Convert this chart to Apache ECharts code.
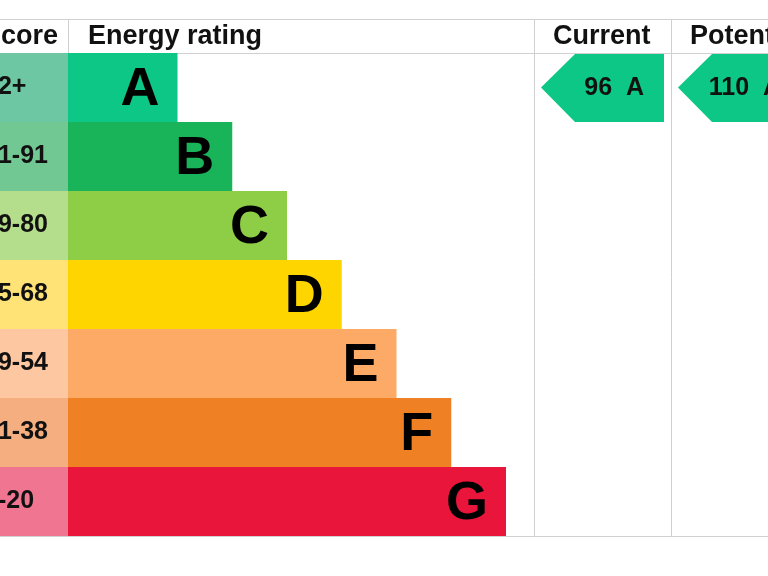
<!DOCTYPE html>
<html><head><meta charset="utf-8">
<script src="https://cdn.jsdelivr.net/npm/echarts@6/dist/echarts.min.js"></script>
<style>html,body{margin:0;padding:0;background:#fff}#c{width:768px;height:576px}</style>
</head><body><div id="c"></div>
<script>
// ---- data ----
const ratings = ['A', 'B', 'C', 'D', 'E', 'F', 'G'];
const scoreRanges = ['92+', '81-91', '69-80', '55-68', '39-54', '21-38', '1-20'];
const bandLength = [2, 3, 4, 5, 6, 7, 8];
const columns = ['Current', 'Potential'];
const markerScores = [96, 110];
const markerRatings = ['A', 'A'];
const headers = ['Score', 'Energy rating'];

// ---- styles ----
const bandColors = ['#0cc785', '#19b459', '#8dce46', '#ffd500', '#fcaa65', '#ef8023', '#e9153b'];
const scoreColors = ['#6cc7a2', '#72c893', '#b4de8c', '#ffe377', '#fdc8a1', '#f4ae7f', '#f07591'];
const FONT = '"Liberation Sans", Arial, Helvetica, sans-serif';
const LINE = '#d0d0d0';

const bandData = ratings.map((r, i) => [i, bandLength[i]]);
const markerData = columns.map((c, j) => [j + 0.5, ratings.indexOf(markerRatings[j]), markerScores[j], j]);

const chart = echarts.init(document.getElementById('c'), null, {renderer: 'canvas'});

function renderBand(params, api) {
  const i = api.value(0);
  const len = api.value(1);
  const start = api.coord([0, i]);
  const end = api.coord([len, i]);
  const bh = api.size([0, 1])[1];
  const top = start[1] - bh / 2;
  const cs = params.coordSys;
  return {
    type: 'group',
    children: [
      {type: 'rect', shape: {x: cs.x - 110, y: top, width: 110, height: bh}, style: {fill: scoreColors[i]}},
      {type: 'rect', shape: {x: start[0], y: top, width: end[0] - start[0], height: bh}, style: {fill: bandColors[i]}},
      {type: 'text', x: cs.x - 84, y: start[1], style: {text: scoreRanges[i], fontFamily: FONT, fontWeight: 'bold', fontSize: 25, fill: '#111', align: 'left', verticalAlign: 'middle'}},
      {type: 'text', x: end[0] - 18, y: start[1] + 3, style: {text: ratings[i], fontFamily: FONT, fontWeight: 'bold', fontSize: 54, fill: '#000', align: 'right', verticalAlign: 'middle'}}
    ]
  };
}

function renderMarker(params, api) {
  const colCenter = api.value(0), row = api.value(1), score = api.value(2), j = api.value(3);
  const c = api.coord([colCenter, row]);
  const s = api.size([1, 1]);
  const colLeft = c[0] - s[0] / 2;
  const left = colLeft + 7;
  const right = c[0] + s[0] / 2 - 7;
  const top = c[1] - s[1] / 2 + 1;
  const bottom = c[1] + s[1] / 2;
  const shoulder = left + 34;
  const cs = params.coordSys;
  return {
    type: 'group',
    children: [
      {type: 'polygon', shape: {points: [[left, c[1]], [shoulder, top], [right, top], [right, bottom], [shoulder, bottom]]}, style: {fill: bandColors[row]}},
      {type: 'text', x: right - 20, y: c[1] + 1, style: {text: score + '  ' + ratings[row], fontFamily: FONT, fontWeight: 'bold', fontSize: 25, fill: '#111', align: 'right', verticalAlign: 'middle'}},
      {type: 'text', x: colLeft + 19, y: cs.y - 16, style: {text: columns[j], fontFamily: FONT, fontWeight: 'bold', fontSize: 27, fill: '#111', align: 'left', verticalAlign: 'middle'}}
    ]
  };
}

function hline(y, x1, x2) { return {type: 'line', shape: {x1: x1, y1: y, x2: x2, y2: y}, style: {stroke: LINE, lineWidth: 1}}; }
function vline(x, y1, y2) { return {type: 'line', shape: {x1: x, y1: y1, x2: x, y2: y2}, style: {stroke: LINE, lineWidth: 1}}; }

chart.setOption({
  animation: false,
  backgroundColor: '#fff',
  grid: [
    {left: 68, top: 53, width: 466, height: 483},
    {left: 534, top: 53, right: 0, height: 483}
  ],
  xAxis: [
    {gridIndex: 0, type: 'value', min: 0, max: 8 * 466 / 438, show: false},
    {gridIndex: 1, type: 'value', min: 0, max: 234 / 137, show: false}
  ],
  yAxis: [
    {gridIndex: 0, type: 'category', data: ratings, inverse: true, show: false},
    {gridIndex: 1, type: 'category', data: ratings, inverse: true, show: false}
  ],
  graphic: [
    hline(19.5, 0, 768), hline(53.5, 0, 768), hline(536.5, 0, 768),
    vline(68.5, 19, 53), vline(534.5, 19, 536), vline(671.5, 19, 536),
    {type: 'text', x: -17, y: 37, style: {text: headers[0], fontFamily: FONT, fontWeight: 'bold', fontSize: 27, fill: '#111', verticalAlign: 'middle'}},
    {type: 'text', x: 88, y: 37, style: {text: headers[1], fontFamily: FONT, fontWeight: 'bold', fontSize: 27, fill: '#111', verticalAlign: 'middle'}}
  ],
  series: [
    {type: 'custom', xAxisIndex: 0, yAxisIndex: 0, renderItem: renderBand, data: bandData, z: 3},
    {type: 'custom', xAxisIndex: 1, yAxisIndex: 1, renderItem: renderMarker, data: markerData, z: 3, clip: false}
  ]
});
</script></body></html>
